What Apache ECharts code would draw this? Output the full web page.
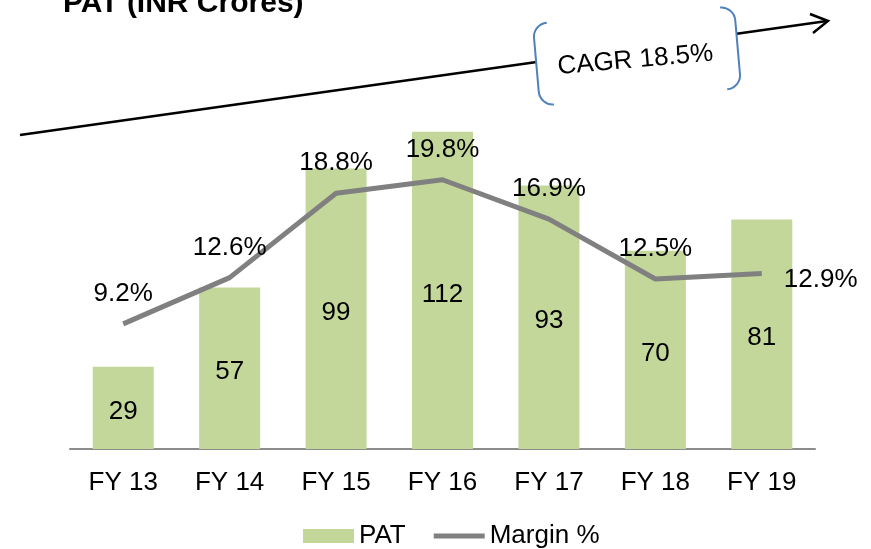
<!DOCTYPE html>
<html>
<head>
<meta charset="utf-8">
<script src="https://cdn.jsdelivr.net/npm/echarts@6/dist/echarts.min.js"></script>
<style>
  html, body { margin: 0; padding: 0; background: #fff; }
  #main { width: 871px; height: 549px; }
</style>
</head>
<body>
<div id="main"></div>
<script>
// 数据
var years = ['FY 13', 'FY 14', 'FY 15', 'FY 16', 'FY 17', 'FY 18', 'FY 19'];
var patValues = [29, 57, 99, 112, 93, 70, 81];
var marginValues = [9.2, 12.6, 18.8, 19.8, 16.9, 12.5, 12.9];
var cagrText = 'CAGR 18.5%';

var FONT = 'Liberation Sans, Arial, sans-serif';
var FS = 26;

var chart = echarts.init(document.getElementById('main'));

// 最后一个点的标签放在右边
var marginData = marginValues.map(function (v, i) {
  if (i === marginValues.length - 1) {
    return { value: v, label: { position: 'right', distance: 22, offset: [0, 6] } };
  }
  return v;
});

var boxRot = 5 * Math.PI / 180;

var option = {
  animation: false,
  backgroundColor: '#fff',
  grid: { left: 70, right: 56, top: 109, bottom: 100 },
  legend: {
    left: 298,
    top: 518,
    itemWidth: 51,
    itemHeight: 14,
    itemGap: 28,
    textStyle: { fontSize: FS, color: '#000', fontFamily: FONT },
    data: [
      { name: 'PAT', icon: 'rect' },
      { name: 'Margin %', icon: 'path://M0,0 H100 V10 H0 Z' }
    ]
  },
  xAxis: {
    type: 'category',
    data: years,
    axisTick: { show: false },
    axisLine: { lineStyle: { color: '#8c8c8c', width: 2 } },
    axisLabel: { fontSize: FS, color: '#000', fontFamily: FONT, margin: 21 }
  },
  yAxis: [
    { type: 'value', min: 0, max: 120, show: false, splitLine: { show: false } },
    { type: 'value', min: 0, max: 25, show: false, splitLine: { show: false } }
  ],
  series: [
    {
      name: 'PAT',
      type: 'bar',
      data: patValues,
      barWidth: 61,
      itemStyle: { color: '#c4d79b' },
      label: { show: true, position: 'inside', offset: [0, 4], fontSize: FS, color: '#000', fontFamily: FONT }
    },
    {
      name: 'Margin %',
      type: 'line',
      yAxisIndex: 1,
      data: marginData,
      symbol: 'circle',
      symbolSize: 0.1,
      lineStyle: { color: '#808080', width: 5 },
      itemStyle: { color: '#808080' },
      label: {
        show: true,
        position: 'top',
        distance: 17,
        fontSize: FS,
        color: '#000',
        fontFamily: FONT,
        formatter: function (p) { return p.value + '%'; }
      },
      z: 3
    }
  ],
  graphic: [
    {
      type: 'text',
      x: 63,
      y: 4,
      style: {
        text: 'PAT (INR Crores)',
        font: 'bold 30px ' + FONT,
        fill: '#000',
        textVerticalAlign: 'middle'
      }
    },
    // CAGR 箭头
    {
      type: 'polyline',
      z: 10,
      shape: { points: [[20, 135], [827, 21]] },
      style: { stroke: '#000', lineWidth: 2.5, fill: null }
    },
    {
      type: 'polyline',
      z: 10,
      shape: { points: [[810, 14], [828, 21], [813, 33]] },
      style: { stroke: '#000', lineWidth: 2.5, fill: null }
    },
    {
      type: 'group',
      x: 637,
      y: 56,
      rotation: boxRot,
      z: 20,
      children: [
        {
          type: 'rect',
          z: 20,
          shape: { x: -101, y: -41, width: 202, height: 82, r: 14 },
          style: { fill: '#fff', stroke: '#4f81bd', lineWidth: 2 }
        },
        {
          type: 'rect',
          z: 21,
          shape: { x: -87, y: -44, width: 174, height: 88 },
          style: { fill: '#fff' }
        },
        {
          type: 'text',
          z: 22,
          x: -2,
          y: 4,
          style: {
            text: cagrText,
            font: FS + 'px ' + FONT,
            fill: '#000',
            textAlign: 'center',
            textVerticalAlign: 'middle'
          }
        }
      ]
    }
  ]
};

chart.setOption(option);
</script>
</body>
</html>
